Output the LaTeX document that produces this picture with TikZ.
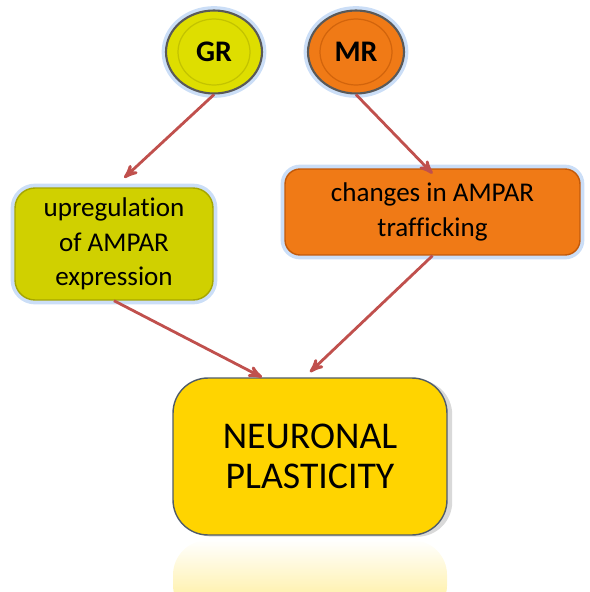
\documentclass[tikz,border=0pt]{standalone}
\usepackage{fontspec}
\setmainfont[Ligatures=NoCommon]{Carlito}
\usetikzlibrary{arrows,shapes,shadows,fadings}
\definecolor{node_yellow}{RGB}{222,222,0}
\definecolor{ring_yellow}{RGB}{195,195,0}
\definecolor{box_yellow}{RGB}{208,208,0}
\definecolor{edge_yellow}{RGB}{165,165,0}
\definecolor{node_orange}{RGB}{240,122,22}
\definecolor{ring_orange}{RGB}{210,100,12}
\definecolor{edge_orange}{RGB}{195,90,10}
\definecolor{node_gold}{RGB}{255,212,0}
\definecolor{edge_slate}{RGB}{80,92,105}
\definecolor{glow_blue}{RGB}{160,195,240}
\definecolor{arrow_red}{RGB}{192,80,77}

\begin{document}
\begin{tikzpicture}[x=0.02cm,y=-0.02cm,semithick,>=stealth']
    \tikzstyle{glow}=[preaction={draw=glow_blue,line width=5pt,opacity=0.55}]
    \tikzstyle{receptor}=[ellipse, glow, minimum width=1.92cm, minimum height=1.66cm, line width=1.2pt, text=black, font=\fontsize{17}{17}\selectfont\bfseries]
    \tikzstyle{effect}=[rectangle, glow, align=center, inner sep=0pt, line width=0.8pt, text=black, font=\fontsize{15.4}{19.5}\selectfont]
    \tikzstyle{outcome}=[rectangle, rounded corners=0.7cm, align=center, inner sep=0pt, draw=edge_slate, fill=node_gold, line width=0.8pt, drop shadow={shadow xshift=3pt,shadow yshift=-1pt,opacity=0.3}, text=black, font=\fontsize{21.5}{22.5}\selectfont]
    \tikzstyle{conn}=[->, draw=arrow_red, line width=1.6pt]

    \useasboundingbox (0,0) rectangle (590,592);

    % reflection under the plasticity box
    \begin{scope}
      \clip (0,538) rectangle (590,592);
      \fill[node_gold!70!white, opacity=0.65, path fading=north, rounded corners=0.7cm] (173,540) rectangle (447,620);
    \end{scope}

    \node[receptor, fill=node_yellow, draw=black!65] (GR) at (214,52) {GR};
    \node[receptor, fill=node_orange, draw=black!65] (MR) at (356,52) {MR};
    \draw[ring_yellow, line width=0.7pt] (GR.center) ellipse [x radius=0.72cm, y radius=0.66cm];
    \draw[ring_orange, line width=0.7pt] (MR.center) ellipse [x radius=0.72cm, y radius=0.66cm];

    \node[effect, fill=box_yellow, draw=edge_yellow, rounded corners=0.4cm, minimum width=3.96cm, minimum height=2.24cm] (UP) at (114,244) {upregulation\\of AMPAR\\expression};
    \node[effect, fill=node_orange, draw=edge_orange, rounded corners=0.3cm, minimum width=5.9cm, minimum height=1.72cm] (CH) at (432.5,212) {changes in AMPAR\\trafficking};

    \node[outcome, minimum width=5.48cm, minimum height=3.14cm] (NP) at (310,456.5) {NEURONAL\\PLASTICITY};

    \draw[conn, shorten >=0.28cm] (GR.south) -- (UP.north);
    \draw[conn] (MR.south) -- ([yshift=-3pt]CH.north);
    \draw[conn] (UP.south) -- ([xshift=-0.96cm]NP.north);
    \draw[conn] (CH.south) -- ([yshift=3pt]NP.north);
\end{tikzpicture}
\end{document}
